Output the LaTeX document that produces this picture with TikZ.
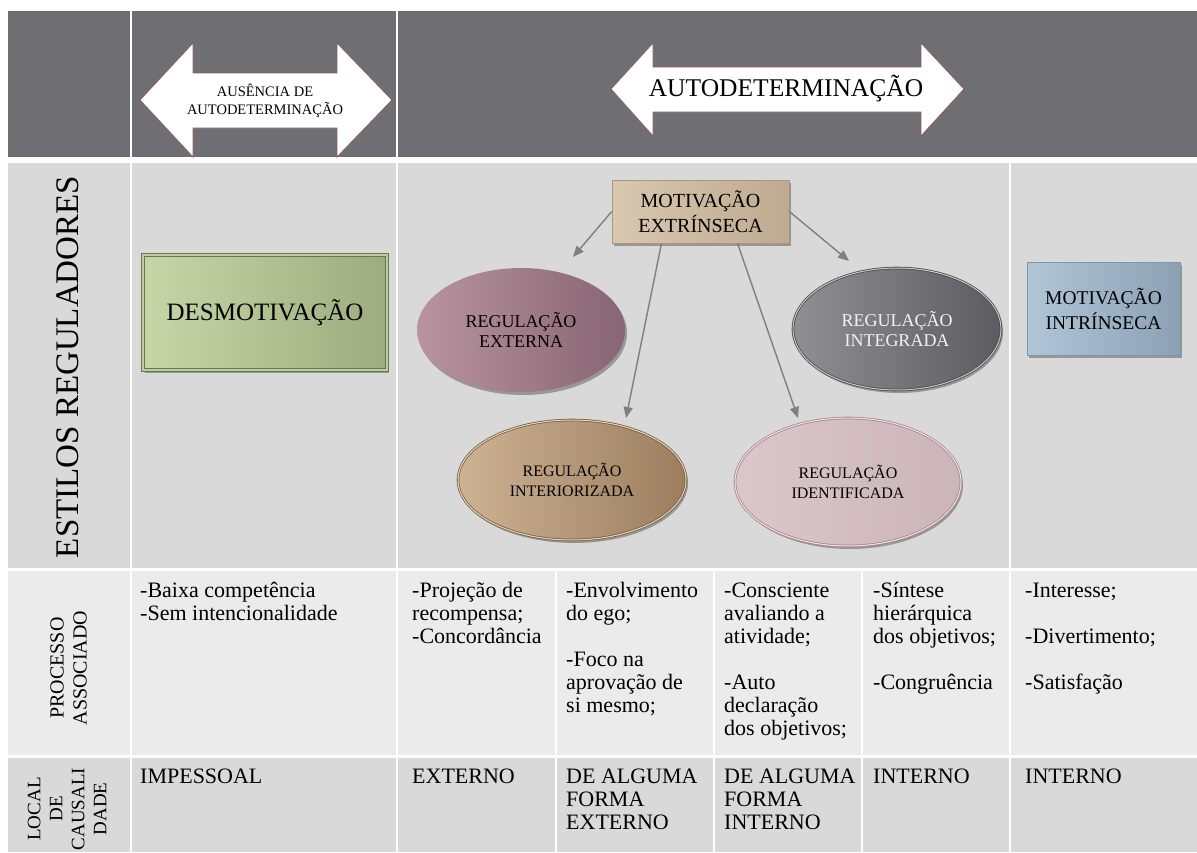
\documentclass[tikz,border=0pt]{standalone}
\usepackage{fontspec}
\setmainfont{Liberation Serif}
\usetikzlibrary{shapes.geometric,shadows,arrows.meta,calc}
\definecolor{hdr}{HTML}{6F6E73}
\definecolor{rowA}{HTML}{D9D9D9}
\definecolor{rowB}{HTML}{EBEBEB}
\definecolor{connc}{HTML}{7F7F7F}
\definecolor{arrowline}{HTML}{8C5A66}
\tikzset{
  harrow/.style={fill=white, draw=arrowline, line width=0.8pt, line join=miter},
  shadowed/.style={drop shadow={shadow xshift=2pt, shadow yshift=-3pt, opacity=0.3, fill=black}},
  boxnode/.style={rectangle, inner sep=0pt, align=center, shadowed},
  ellnode/.style={ellipse, inner sep=0pt, align=center, shadowed},
  cell/.style={anchor=north west, inner sep=0pt, align=left, font=\fontsize{22}{23}\selectfont},
  conn/.style={draw=connc, line width=1.4pt, -{Triangle[length=11pt,width=9pt]}},
}
\begin{document}
\begin{tikzpicture}[x=1pt,y=-1pt]
\useasboundingbox (0,0) rectangle (1197,852);
\clip (0,0) rectangle (1197,852);
\fill[white] (0,0) rectangle (1197,852);
% header row
\fill[hdr] (8,11) rectangle (130,157);
\fill[hdr] (132,11) rectangle (396,157);
\fill[hdr] (398,11) rectangle (1197,157);
% row 2
\fill[rowA] (8,163) rectangle (130,568);
\fill[rowA] (132,163) rectangle (396,568);
\fill[rowA] (398,163) rectangle (1009,568);
\fill[rowA] (1011,163) rectangle (1197,568);
% rows 3 and 4
\foreach \a/\b in {8/130,132/396,398/555,557/713,715/861,863/1009,1011/1197}{
  \fill[rowB] (\a,571) rectangle (\b,755);
  \fill[rowA] (\a,758) rectangle (\b,852);
}
% header arrows
\draw[harrow] (140,100) -- (193,43) -- (193,73) -- (337,73) -- (337,43) -- (392,100)
  -- (337,157) -- (337,128) -- (193,128) -- (193,157) -- cycle;
\node[align=center, inner sep=0pt, font=\fontsize{14.5}{18}\selectfont] (ausen) at (265,101)
  {AUSÊNCIA DE\\AUTODETERMINAÇÃO};
\draw[harrow] (611,89) -- (653,43) -- (653,67) -- (921,67) -- (921,43) -- (964,89)
  -- (921,136) -- (921,112) -- (653,112) -- (653,136) -- cycle;
\node[inner sep=0pt, font=\fontsize{25.5}{28}\selectfont] (autod) at (786,89) {AUTODETERMINAÇÃO};
% left column labels
\node[rotate=90, inner sep=0pt, font=\fontsize{33}{36}\selectfont] (estilos) at (68,367) {ESTILOS REGULADORES};
\node[rotate=90, inner sep=0pt, align=center, font=\fontsize{20}{23}\selectfont] (proc) at (68.5,668) {PROCESSO\\ASSOCIADO};
\node[rotate=90, inner sep=0pt, align=center, font=\fontsize{19}{22}\selectfont] (local) at (67,809) {LOCAL\\DE\\CAUSALI\\DADE};
% row 2 diagram
\node[boxnode, minimum width=244pt, minimum height=115pt, left color={rgb,255:red,198;green,214;blue,166}, right color={rgb,255:red,157;green,172;blue,126},
  draw={rgb,255:red,104;green,120;blue,78}, line width=0.8pt, double={rgb,255:red,190;green,205;blue,160}, double distance=2pt,
  font=\fontsize{25}{28}\selectfont] (desm) at (265,312.5) {DESMOTIVAÇÃO};
\node[boxnode, minimum width=177pt, minimum height=63pt, left color={rgb,255:red,216;green,200;blue,176}, right color={rgb,255:red,190;green,170;blue,143},
  draw={rgb,255:red,170;green,150;blue,125}, line width=0.6pt, font=\fontsize{20}{25}\selectfont] (mext) at (700.5,211.5) {MOTIVAÇÃO\\EXTRÍNSECA};
\node[boxnode, minimum width=153pt, minimum height=93pt, left color={rgb,255:red,176;green,197;blue,214}, right color={rgb,255:red,140;green,161;blue,180},
  draw={rgb,255:red,130;green,150;blue,170}, line width=0.6pt, font=\fontsize{19.5}{25}\selectfont] (mint) at (1103.5,308.5) {MOTIVAÇÃO\\INTRÍNSECA};
\node[ellnode, minimum width=208pt, minimum height=124pt, left color={rgb,255:red,185;green,147;blue,160}, right color={rgb,255:red,136;green,101;blue,114},
  font=\fontsize{18}{20}\selectfont] (rext) at (521,330) {REGULAÇÃO\\EXTERNA};
\node[ellnode, minimum width=228pt, minimum height=120pt, left color={rgb,255:red,205;green,178;blue,148}, right color={rgb,255:red,156;green,126;blue,94},
  draw={rgb,255:red,120;green,92;blue,66}, line width=0.8pt, double={rgb,255:red,232;green,216;blue,192}, double distance=1pt,
  font=\fontsize{16}{20}\selectfont] (rint) at (572,480) {REGULAÇÃO\\INTERIORIZADA};
\node[ellnode, minimum width=226pt, minimum height=128pt, left color={rgb,255:red,218;green,199;blue,204}, right color={rgb,255:red,203;green,180;blue,186},
  draw={rgb,255:red,168;green,131;blue,144}, line width=0.8pt, double={rgb,255:red,240;green,228;blue,232}, double distance=1pt,
  font=\fontsize{16}{20}\selectfont] (rident) at (848,482) {REGULAÇÃO\\IDENTIFICADA};
\node[ellnode, minimum width=208pt, minimum height=122pt, left color={rgb,255:red,144;green,143;blue,148}, right color={rgb,255:red,92;green,91;blue,96},
  draw={rgb,255:red,74;green,74;blue,78}, line width=0.8pt, double={rgb,255:red,200;green,200;blue,204}, double distance=1pt,
  text={rgb,255:red,242;green,242;blue,242}, font=\fontsize{18}{20}\selectfont] (rinteg) at (897,329) {REGULAÇÃO\\INTEGRADA};
% connectors
\coordinate (t1) at (573,257);
\coordinate (t2) at (626,418);
\coordinate (t3) at (798,418);
\coordinate (t4) at (849,261);
\draw[conn] (mext.west) -- (t1);
\draw[conn] ([xshift=-39pt]mext.south) -- (t2);
\draw[conn] ([xshift=37pt]mext.south) -- (t3);
\draw[conn] (mext.east) -- (t4);
% row 3
\node[cell] (p2) at (140,581) {\strut-Baixa competência\\-Sem intencionalidade};
\node[cell] (p3) at (412,581) {\strut-Projeção de\\recompensa;\\-Concordância};
\node[cell] (p4) at (566,581) {\strut-Envolvimento\\do ego;\\[23pt]-Foco na\\aprovação de\\si mesmo;};
\node[cell] (p5) at (724,581) {\strut-Consciente\\avaliando a\\atividade;\\[23pt]-Auto\\declaração\\dos objetivos;};
\node[cell] (p6) at (873,581) {\strut-Síntese\\hierárquica\\dos objetivos;\\[23pt]-Congruência};
\node[cell] (p7) at (1025,581) {\strut-Interesse;\\[23pt]-Divertimento;\\[23pt]-Satisfação};
% row 4
\node[cell] (l2) at (140,767) {\strut IMPESSOAL};
\node[cell] (l3) at (412,767) {\strut EXTERNO};
\node[cell] (l4) at (566,767) {\strut DE ALGUMA\\FORMA\\EXTERNO};
\node[cell] (l5) at (724,767) {\strut DE ALGUMA\\FORMA\\INTERNO};
\node[cell] (l6) at (873,767) {\strut INTERNO};
\node[cell] (l7) at (1025,767) {\strut INTERNO};
\end{tikzpicture}
\end{document}
